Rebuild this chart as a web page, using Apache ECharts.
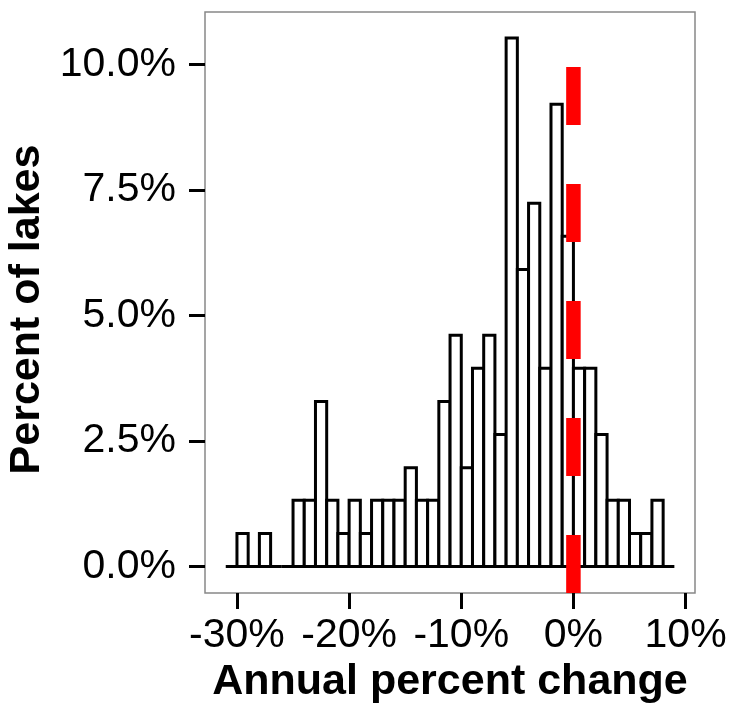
<!DOCTYPE html>
<html>
<head>
<meta charset="utf-8">
<script src="https://cdn.jsdelivr.net/npm/echarts@6/dist/echarts.min.js"></script>
<style>
  html, body { margin: 0; padding: 0; background: #fff; }
  #chart { width: 734px; height: 704px; }
</style>
</head>
<body>
<div id="chart"></div>
<script>
// bin left edges (annual percent change, 1% wide bins)
var binStarts = [-31, -30, -29, -28, -27, -26, -25, -24, -23, -22,
                 -21, -20, -19, -18, -17, -16, -15, -14, -13, -12,
                 -11, -10, -9, -8, -7, -6, -5, -4, -3, -2,
                 -1, 0, 1, 2, 3, 4, 5, 6, 7, 8];
// percent of lakes in each bin
var binPercent = [0, 0.66, 0, 0.66, 0, 0, 1.32, 1.32, 3.29, 1.32,
                  0.66, 1.32, 0.66, 1.32, 1.32, 1.32, 1.97, 1.32, 1.32, 3.29,
                  4.61, 1.97, 3.95, 4.61, 2.63, 10.53, 5.92, 7.24, 3.95, 9.21,
                  6.58, 3.95, 3.95, 2.63, 1.32, 1.32, 0.66, 0.66, 1.32, 0];
var binWidth = 1;
var xTicks = [-30, -20, -10, 0, 10];
var yTicks = [0, 2.5, 5, 7.5, 10];
var refLine = 0;

var xMin = -32.85, xMax = 10.84;
var yMin = -0.526, yMax = 11.05;

var histData = [];
for (var i = 0; i < binStarts.length; i++) {
    histData.push([binStarts[i], binStarts[i] + binWidth, binPercent[i]]);
}

function renderBar(params, api) {
    var p0 = api.coord([api.value(0), api.value(2)]);
    var p1 = api.coord([api.value(1), 0]);
    return {
        type: 'rect',
        shape: { x: p0[0], y: p0[1], width: p1[0] - p0[0], height: p1[1] - p0[1] },
        style: { fill: '#fff', stroke: '#000', lineWidth: 3 }
    };
}

function renderRef(params, api) {
    var b = api.coord([api.value(0), yMin]);
    var t = api.coord([api.value(0), yMax]);
    return {
        type: 'line',
        shape: { x1: b[0], y1: b[1], x2: t[0], y2: t[1] },
        style: { stroke: '#ff0000', lineWidth: 14.5, lineDash: [58, 59], lineCap: 'butt' },
        z2: 10
    };
}

var option = {
    animation: false,
    backgroundColor: '#fff',
    grid: {
        left: 205, top: 12, right: 39, bottom: 111,
        outerBoundsMode: 'none',
        show: true, borderColor: '#888', borderWidth: 1.5, backgroundColor: '#fff'
    },
    xAxis: {
        type: 'value',
        min: xMin, max: xMax,
        name: 'Annual percent change',
        nameLocation: 'middle',
        nameGap: 64,
        nameTextStyle: { fontFamily: 'Liberation Sans', fontWeight: 'bold', fontSize: 43, color: '#000' },
        axisLine: { show: false, onZero: false },
        axisTick: { show: true, length: 16, customValues: xTicks, lineStyle: { color: '#000', width: 3 } },
        axisLabel: {
            customValues: xTicks, margin: 22,
            fontFamily: 'Liberation Sans', fontSize: 41, color: '#000',
            formatter: function (v) { return v + '%'; }
        },
        splitLine: { show: false }
    },
    yAxis: {
        type: 'value',
        min: yMin, max: yMax,
        name: 'Percent of lakes',
        nameLocation: 'middle',
        nameGap: 153,
        nameRotate: 90,
        nameTextStyle: {
            fontFamily: 'Liberation Sans', fontWeight: 'bold', fontSize: 43, color: '#000',
            padding: [0, 14, 0, 0]
        },
        axisLine: { show: false, onZero: false },
        axisTick: { show: true, length: 16, customValues: yTicks, lineStyle: { color: '#000', width: 3 } },
        axisLabel: {
            customValues: yTicks, margin: 29,
            fontFamily: 'Liberation Sans', fontSize: 41, color: '#000',
            formatter: function (v) { return v.toFixed(1) + '%'; }
        },
        splitLine: { show: false }
    },
    series: [
        {
            type: 'custom',
            renderItem: renderBar,
            encode: { x: [0, 1], y: 2 },
            data: histData,
            clip: false
        },
        {
            type: 'custom',
            renderItem: renderRef,
            encode: { x: 0 },
            data: [[refLine]],
            z: 5
        }
    ]
};

var chart = echarts.init(document.getElementById('chart'));
chart.setOption(option);
</script>
</body>
</html>
